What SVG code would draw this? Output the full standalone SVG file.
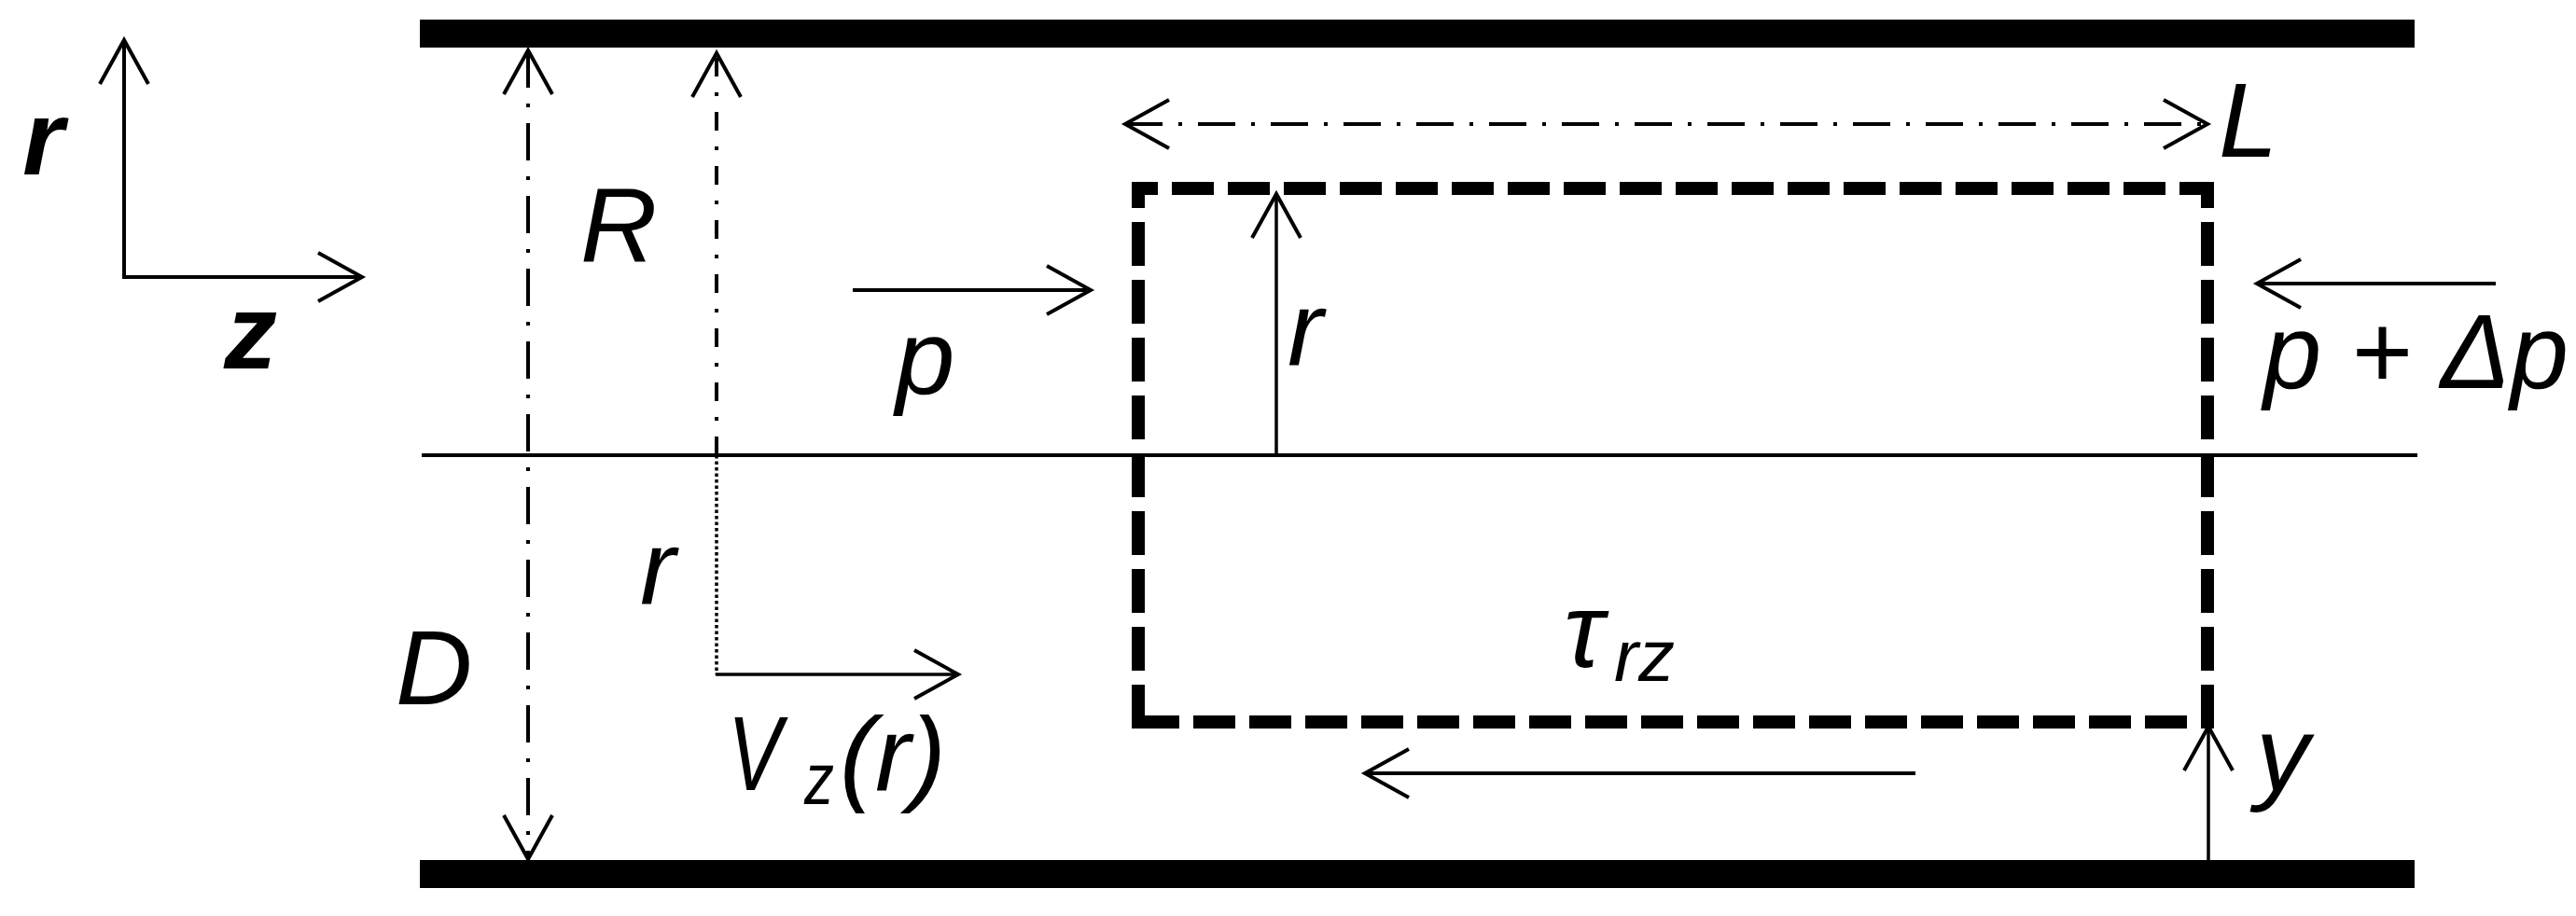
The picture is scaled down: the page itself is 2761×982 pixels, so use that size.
<svg xmlns="http://www.w3.org/2000/svg" width="2761" height="982" viewBox="0 0 2761 982">
<style>
.ln{stroke:#000;stroke-width:4;fill:none;stroke-linecap:butt}
.thin{stroke:#000;stroke-width:3.5;fill:none}
.dd{stroke-dasharray:40 17 4 17}
.dd2{stroke-dasharray:20 17 4 17}
.dot{stroke-dasharray:3.5 3}
.box{stroke:#000;stroke-width:14;fill:none;stroke-linecap:butt}
.lbl{font-family:"Liberation Sans",Arial,sans-serif;font-style:italic;font-size:114px;fill:#000}
.sub{font-size:78px}
.bold{font-weight:bold}
</style>
<defs>
<marker id="ah" markerUnits="userSpaceOnUse" markerWidth="120" markerHeight="120" viewBox="-60 -60 120 120" refX="0" refY="0" orient="auto-start-reverse" overflow="visible">
<path d="M-47,-26 L0,0 L-47,26" fill="none" stroke="#000" stroke-width="4" stroke-linejoin="miter"/>
</marker>
</defs>
<rect width="2761" height="982" fill="#fff"/>
<g id="walls">
<rect id="wall-top" x="450" y="21" width="2138" height="30" fill="#000"/>
<rect id="wall-bottom" x="450" y="922" width="2138" height="30" fill="#000"/>
<line id="centerline" x1="452" y1="488" x2="2591" y2="488" class="ln"/>
</g>
<g id="control-volume">
<path d="M1213,202 H2373" class="box" stroke-dasharray="45 15" stroke-dashoffset="17"/>
<path d="M2359,774 H1213" class="box" stroke-dasharray="45 15" stroke-dashoffset="45"/>
<path d="M1220,781 V195" class="box" stroke-dasharray="47 15"/>
<path d="M2366,781 V195" class="box" stroke-dasharray="47 15"/>
</g>
<g id="connectors">
<line x1="133" y1="297" x2="133" y2="43" class="ln" marker-end="url(#ah)"/>
<line x1="131" y1="297" x2="388" y2="297" class="ln" marker-end="url(#ah)"/>
<line x1="566" y1="54" x2="566" y2="921" class="ln dd" marker-start="url(#ah)" marker-end="url(#ah)"/>
<line x1="768" y1="488" x2="768" y2="57" class="ln dd2" marker-end="url(#ah)"/>
<line x1="768" y1="488" x2="768" y2="723" class="thin dot"/>
<line x1="767" y1="723" x2="1027" y2="723" class="thin" marker-end="url(#ah)"/>
<line x1="914" y1="311" x2="1169" y2="311" class="ln" marker-end="url(#ah)"/>
<line x1="2675" y1="304" x2="2419" y2="304" class="ln" marker-end="url(#ah)"/>
<line x1="1206" y1="133" x2="2366" y2="133" class="ln dd" marker-start="url(#ah)" marker-end="url(#ah)"/>
<line x1="1368" y1="490" x2="1368" y2="208" class="thin" marker-end="url(#ah)"/>
<line x1="2053" y1="829" x2="1463" y2="829" class="ln" marker-end="url(#ah)"/>
<line x1="2367" y1="923" x2="2367" y2="779" class="thin" marker-end="url(#ah)"/>
</g>
<g id="labels">
<text id="lbl-axis-r" class="lbl bold" x="24" y="187">r</text>
<text id="lbl-axis-z" class="lbl bold" x="240" y="395">z</text>
<text id="lbl-R" class="lbl" x="622" y="280">R</text>
<text id="lbl-D" class="lbl" x="424" y="755">D</text>
<text id="lbl-r-mid" class="lbl" x="686" y="648">r</text>
<text id="lbl-Vz" class="lbl" x="780" y="847"><tspan textLength="58" lengthAdjust="spacingAndGlyphs">V</tspan><tspan class="sub" x="862" y="862" textLength="32" lengthAdjust="spacingAndGlyphs">z</tspan><tspan x="900" y="848">(r)</tspan></text>
<text id="lbl-p" class="lbl" x="960" y="422">p</text>
<text id="lbl-L" class="lbl" x="2378" y="168">L</text>
<text id="lbl-r-box" class="lbl" x="1380" y="392">r</text>
<text id="lbl-pdp" class="lbl" x="2426" y="416" textLength="327" lengthAdjust="spacingAndGlyphs">p + Δp</text>
<text id="lbl-tau" class="lbl" x="1676" y="715">τ<tspan class="sub" x="1730" y="730">rz</tspan></text>
<text id="lbl-y" class="lbl" x="2418" y="847">y</text>
</g>
</svg>
